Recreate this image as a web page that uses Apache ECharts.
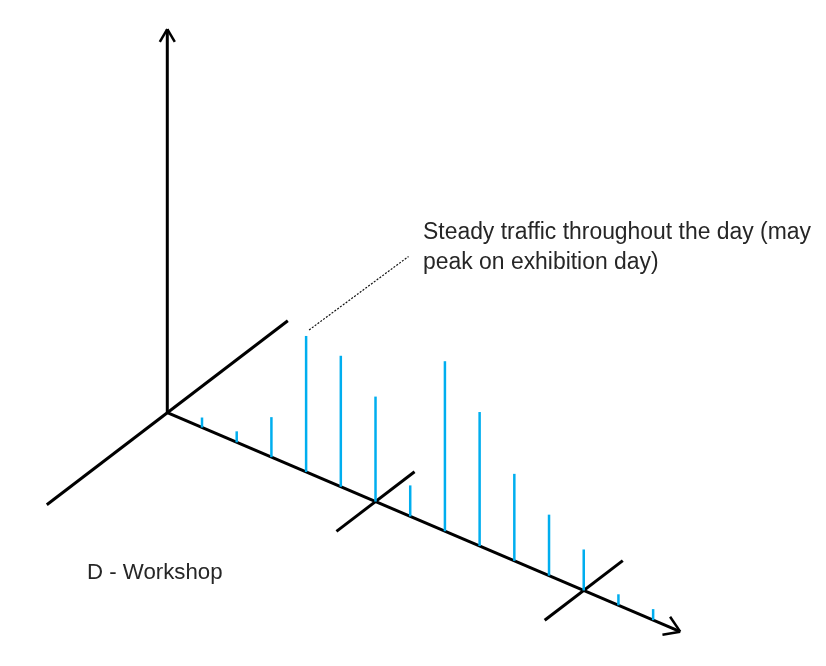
<!DOCTYPE html>
<html>
<head>
<meta charset="utf-8">
<script src="https://cdn.jsdelivr.net/npm/echarts@6/dist/echarts.min.js"></script>
<style>
html,body{margin:0;padding:0;background:#fff;}
#chart{width:826px;height:666px;}
</style>
</head>
<body>
<div id="chart"></div>
<script>
// ---- data ----
const timeSlots = ['S1','S2','S3','S4','S5','S6','S7','S8','S9','S10','S11','S12','S13','S14'];
const trafficLevel = [10, 11, 40, 136, 131, 105, 31, 170, 134, 87, 61, 41, 11, 11];
const dayDividerSlots = [6, 12];          // positions (1-based slot) of the day separators
const annotatedSlot = 4;                  // slot the note points at
const noteLines = ['Steady traffic throughout the day (may', 'peak on exhibition day)'];
const groupLabel = 'D - Workshop';

// ---- styling / projection constants ----
const FONT = "'Liberation Sans', Arial, sans-serif";
const SLOPE = 0.4269;          // downward slant of the time axis
const DEPTH = [120.5, -92];    // screen vector of one unit of depth axis
const AXIS_END = 14.78;        // time-axis length in slot units
const VERT_END = 383.7;        // vertical axis length in value units
const BLUE = '#00AEEF';
const BLACK = '#000';
const TEXT_COLOR = '#262626';

const measureCtx = document.createElement('canvas').getContext('2d');
function textWidth(t, font) { measureCtx.font = font; return measureCtx.measureText(t).width; }
const noteFont = '23px ' + FONT;
const labelFont = '22px ' + FONT;
const noteScale = 388 / textWidth(noteLines[0], noteFont);
const labelScale = 135.5 / textWidth(groupLabel, labelFont);

function proj(api, u, v, w) {
  w = w || 0;
  const c = api.coord([u, v]);
  const c0 = api.coord([0, 0]);
  const dx = c[0] - c0[0];
  return [c[0] + w * DEPTH[0], c[1] + dx * SLOPE + w * DEPTH[1]];
}
function seg(p, q, style) {
  return { type: 'line', shape: { x1: p[0], y1: p[1], x2: q[0], y2: q[1] }, style: style };
}
function arrow(tip, dir, len, ang, style) {
  const bx = -dir[0], by = -dir[1];
  const out = [];
  [ang, -ang].forEach(a => {
    const cx = bx * Math.cos(a) - by * Math.sin(a);
    const cy = bx * Math.sin(a) + by * Math.cos(a);
    out.push({ type: 'polyline', shape: { points: [[tip[0] + cx * len, tip[1] + cy * len], tip] }, style: style });
  });
  return out;
}

const chart = echarts.init(document.getElementById('chart'));
const lineStyle = { stroke: BLACK, lineWidth: 3, lineCap: 'butt', fill: null };

chart.setOption({
  animation: false,
  grid: { left: 167.3, top: 12.7, width: 512.9, height: 400, containLabel: false },
  xAxis: { type: 'value', min: 0, max: AXIS_END, show: false },
  yAxis: { type: 'value', min: 0, max: 400, show: false },
  graphic: [
    {
      type: 'text', x: 423, y: 217.5, scaleX: noteScale, scaleY: 1,
      style: { x: 0, y: 0, text: noteLines.join('\n'), font: noteFont, fill: TEXT_COLOR, lineHeight: 30 }
    },
    {
      type: 'text', x: 87, y: 560.5, scaleX: labelScale, scaleY: 1,
      style: { x: 0, y: 0, text: groupLabel, font: labelFont, fill: TEXT_COLOR, lineHeight: 24 }
    }
  ],
  series: [
    {
      type: 'custom',
      name: 'frame',
      silent: true,
      data: [[0, 0]],
      renderItem: function (params, api) {
        const o = proj(api, 0, 0);
        const children = [];
        const vTop = proj(api, 0, VERT_END);
        children.push(seg(o, vTop, lineStyle));
        children.push(...arrow(vTop, [0, -1], 15, Math.PI / 6, Object.assign({}, lineStyle, { lineWidth: 2.5 })));
        const tEnd = proj(api, AXIS_END, 0);
        children.push(seg(o, tEnd, lineStyle));
        const L = Math.hypot(tEnd[0] - o[0], tEnd[1] - o[1]);
        children.push(...arrow(tEnd, [(tEnd[0] - o[0]) / L, (tEnd[1] - o[1]) / L], 18, Math.PI / 5.5, Object.assign({}, lineStyle, { lineWidth: 2.5 })));
        children.push(seg(proj(api, 0, 0, -1), proj(api, 0, 0, 1), lineStyle));
        dayDividerSlots.forEach(u => {
          children.push(seg(proj(api, u, 0, -0.324), proj(api, u, 0, 0.324), lineStyle));
        });
        const a = proj(api, annotatedSlot, trafficLevel[annotatedSlot - 1]);
        children.push(seg([a[0] + 3, a[1] - 6], [408.5, 256.5],
          { stroke: '#111', lineWidth: 1.2, lineDash: [2, 1.5], fill: null }));
        return { type: 'group', children: children };
      },
      z: 1
    },
    {
      type: 'custom',
      name: 'traffic',
      data: trafficLevel.map((v, i) => [i + 1, v, timeSlots[i]]),
      encode: { x: 0, y: 1 },
      renderItem: function (params, api) {
        const u = api.value(0), v = api.value(1);
        const b = proj(api, u, 0);
        const t = proj(api, u, v);
        return seg(b, t, { stroke: BLUE, lineWidth: 2.5, fill: null });
      },
      z: 2
    }
  ]
});
</script>
</body>
</html>
